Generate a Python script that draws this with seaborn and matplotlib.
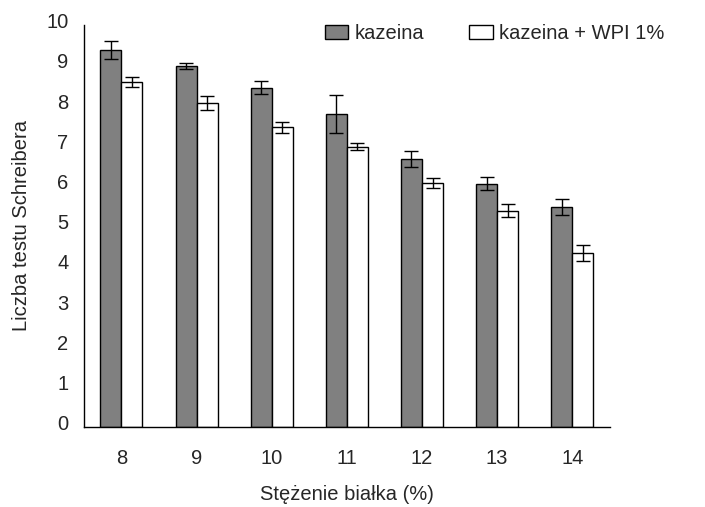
import numpy as np
import pandas as pd
import matplotlib
matplotlib.use("Agg")
import matplotlib.pyplot as plt
import matplotlib.transforms as mtransforms
import seaborn as sns
from matplotlib.ticker import FixedLocator
from matplotlib.patches import Patch

# Protein concentration (%) and Schreiber test values
concentrations = ["8", "9", "10", "11", "12", "13", "14"]
series_names = ["kazeina", "kazeina + WPI 1%"]
kazeina = [9.38, 8.97, 8.44, 7.78, 6.66, 6.05, 5.46]
kazeina_err = [0.22, 0.08, 0.16, 0.47, 0.20, 0.16, 0.20]
kazeina_wpi = [8.58, 8.05, 7.45, 6.97, 6.06, 5.38, 4.32]
kazeina_wpi_err = [0.13, 0.17, 0.13, 0.09, 0.13, 0.16, 0.20]

df = pd.DataFrame({
    "conc": concentrations * 2,
    "series": [series_names[0]] * 7 + [series_names[1]] * 7,
    "value": kazeina + kazeina_wpi,
    "err": kazeina_err + kazeina_wpi_err,
})

sns.set_style("white")
plt.rcParams["font.family"] = ["Liberation Sans", "DejaVu Sans"]
FS = 14.5

fig = plt.figure(figsize=(7.05, 5.07), dpi=100)
ax = fig.add_axes([0.119, 0.158, 0.746, 0.793])

sns.barplot(data=df, x="conc", y="value", hue="series", order=concentrations,
            hue_order=series_names, palette=["#808080", "#ffffff"],
            width=0.56, errorbar=None, edgecolor="black", linewidth=1.0,
            ax=ax, legend=False)

# error bars placed on each bar's centre
for container, name in zip(ax.containers, series_names):
    sub = df[df["series"] == name].set_index("conc").loc[concentrations]
    xs = [p.get_x() + p.get_width() / 2 for p in container.patches]
    ax.errorbar(xs, sub["value"].values, yerr=sub["err"].values, fmt="none",
                ecolor="black", elinewidth=1.0, capsize=5, capthick=1.0, zorder=5)

ax.set_ylim(0, 10)
ax.set_xlim(-0.5, len(concentrations) - 0.5)
ax.set_yticks(np.arange(0, 11, 1))

# ticks between categories, labels at category centres
ax.xaxis.set_major_locator(FixedLocator(np.arange(-0.5, len(concentrations), 1.0)))
ax.xaxis.set_minor_locator(FixedLocator(np.arange(len(concentrations))))
ax.set_xticklabels([""] * (len(concentrations) + 1))
ax.set_xticklabels(concentrations, minor=True)
ax.tick_params(axis="x", which="major", direction="out", length=5, width=1, color="black")
ax.tick_params(axis="x", which="minor", length=0, pad=16, labelsize=FS)
ax.tick_params(axis="y", direction="out", length=5, width=1, color="black",
               labelsize=FS, pad=6)

# y tick labels sit slightly above their ticks
lift = mtransforms.ScaledTranslation(0, 3 / 72, fig.dpi_scale_trans)
for lbl in ax.get_yticklabels():
    lbl.set_transform(lbl.get_transform() + lift)

for side in ["top", "right"]:
    ax.spines[side].set_visible(False)
for side in ["left", "bottom"]:
    ax.spines[side].set_color("black")
    ax.spines[side].set_linewidth(1.0)

ax.set_xlabel("Stężenie białka (%)", fontsize=FS)
ax.set_ylabel("Liczba testu Schreibera", fontsize=FS)
ax.xaxis.set_label_coords(0.5, -0.167)
ax.xaxis.label.set_va("center")
ax.yaxis.set_label_coords(-0.118, 0.5)
ax.yaxis.label.set_va("center")

handles = [Patch(facecolor="#808080", edgecolor="black", linewidth=1.0),
           Patch(facecolor="#ffffff", edgecolor="black", linewidth=1.0)]
fig.legend(handles, series_names, loc="upper left", bbox_to_anchor=(0.450, 0.968),
           ncol=2, frameon=False, fontsize=FS, handlelength=1.15, handleheight=0.7,
           handletextpad=0.3, columnspacing=2.25, borderaxespad=0)

fig.savefig("out.png", dpi=100)
